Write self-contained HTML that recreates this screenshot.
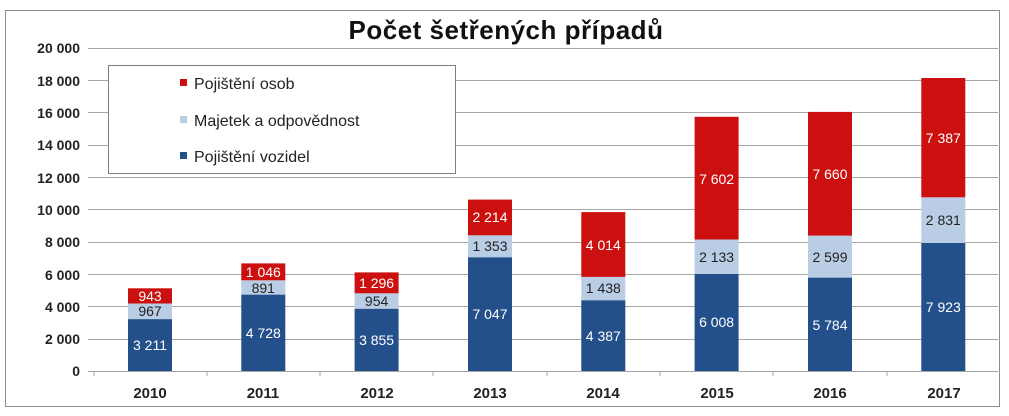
<!DOCTYPE html>
<html><head><meta charset="utf-8"><style>
body{margin:0;background:#fff}
svg{display:block;font-family:"Liberation Sans",sans-serif}
</style></head><body>
<svg width="1009" height="416" viewBox="0 0 1009 416">
<rect x="0" y="0" width="1009" height="416" fill="#fff"/>
<rect x="5.5" y="10.5" width="994" height="396" fill="#fff" stroke="#8c8c8c" stroke-width="1"/>
<text x="506" y="39" text-anchor="middle" font-size="26" font-weight="bold" fill="#111" letter-spacing="0.5">Počet šetřených případů</text>
<g stroke="#a6a6a6" stroke-width="1">
<line x1="88" x2="998" y1="48.5" y2="48.5"/>
<line x1="88" x2="998" y1="80.5" y2="80.5"/>
<line x1="88" x2="998" y1="112.5" y2="112.5"/>
<line x1="88" x2="998" y1="145.5" y2="145.5"/>
<line x1="88" x2="998" y1="177.5" y2="177.5"/>
<line x1="88" x2="998" y1="209.5" y2="209.5"/>
<line x1="88" x2="998" y1="242.5" y2="242.5"/>
<line x1="88" x2="998" y1="274.5" y2="274.5"/>
<line x1="88" x2="998" y1="306.5" y2="306.5"/>
<line x1="88" x2="998" y1="339.5" y2="339.5"/>
<line x1="88" x2="998" y1="371.5" y2="371.5"/>
<line x1="94" x2="94" y1="371" y2="376"/>
<line x1="207" x2="207" y1="371" y2="376"/>
<line x1="320" x2="320" y1="371" y2="376"/>
<line x1="433" x2="433" y1="371" y2="376"/>
<line x1="547" x2="547" y1="371" y2="376"/>
<line x1="660" x2="660" y1="371" y2="376"/>
<line x1="773" x2="773" y1="371" y2="376"/>
<line x1="887" x2="887" y1="371" y2="376"/>
</g>
<g font-size="14" font-weight="bold" fill="#222" text-anchor="end">
<text x="80" y="53">20 000</text>
<text x="80" y="86">18 000</text>
<text x="80" y="118">16 000</text>
<text x="80" y="150">14 000</text>
<text x="80" y="183">12 000</text>
<text x="80" y="215">10 000</text>
<text x="80" y="247">8 000</text>
<text x="80" y="280">6 000</text>
<text x="80" y="312">4 000</text>
<text x="80" y="344">2 000</text>
<text x="80" y="376">0</text>
</g>
<g font-size="15" font-weight="bold" fill="#222" text-anchor="middle">
<text x="150" y="398">2010</text>
<text x="263" y="398">2011</text>
<text x="377" y="398">2012</text>
<text x="490" y="398">2013</text>
<text x="603" y="398">2014</text>
<text x="717" y="398">2015</text>
<text x="830" y="398">2016</text>
<text x="944" y="398">2017</text>
</g>
<g>
<rect x="128" y="319.1" width="44" height="51.9" fill="#234f8a"/>
<rect x="128" y="303.5" width="44" height="15.6" fill="#b9cde5"/>
<rect x="128" y="288.3" width="44" height="15.2" fill="#cc1010"/>
<rect x="241.3" y="294.6" width="44" height="76.4" fill="#234f8a"/>
<rect x="241.3" y="280.3" width="44" height="14.3" fill="#b9cde5"/>
<rect x="241.3" y="263.4" width="44" height="16.9" fill="#cc1010"/>
<rect x="354.6" y="308.7" width="44" height="62.3" fill="#234f8a"/>
<rect x="354.6" y="293.3" width="44" height="15.4" fill="#b9cde5"/>
<rect x="354.6" y="272.4" width="44" height="20.9" fill="#cc1010"/>
<rect x="468" y="257.2" width="44" height="113.8" fill="#234f8a"/>
<rect x="468" y="235.3" width="44" height="21.9" fill="#b9cde5"/>
<rect x="468" y="199.6" width="44" height="35.7" fill="#cc1010"/>
<rect x="581.3" y="300.2" width="44" height="70.8" fill="#234f8a"/>
<rect x="581.3" y="276.9" width="44" height="23.3" fill="#b9cde5"/>
<rect x="581.3" y="212.1" width="44" height="64.8" fill="#cc1010"/>
<rect x="694.6" y="274.0" width="44" height="97" fill="#234f8a"/>
<rect x="694.6" y="239.5" width="44" height="34.5" fill="#b9cde5"/>
<rect x="694.6" y="116.8" width="44" height="122.7" fill="#cc1010"/>
<rect x="808" y="277.6" width="44" height="93.4" fill="#234f8a"/>
<rect x="808" y="235.6" width="44" height="42" fill="#b9cde5"/>
<rect x="808" y="111.9" width="44" height="123.7" fill="#cc1010"/>
<rect x="921.3" y="243.0" width="44" height="128" fill="#234f8a"/>
<rect x="921.3" y="197.3" width="44" height="45.7" fill="#b9cde5"/>
<rect x="921.3" y="78.0" width="44" height="119.3" fill="#cc1010"/>
</g>
<g font-size="14" text-anchor="middle">
<g fill="#fff">
<text x="150" y="350">3 211</text>
<text x="263.3" y="338">4 728</text>
<text x="376.6" y="345">3 855</text>
<text x="490" y="319">7 047</text>
<text x="603.3" y="341">4 387</text>
<text x="716.6" y="327">6 008</text>
<text x="830" y="330">5 784</text>
<text x="943.3" y="312">7 923</text>
<text x="150" y="301">943</text>
<text x="263.3" y="277">1 046</text>
<text x="376.6" y="288">1 296</text>
<text x="490" y="222">2 214</text>
<text x="603.3" y="250">4 014</text>
<text x="716.6" y="184">7 602</text>
<text x="830" y="179">7 660</text>
<text x="943.3" y="143">7 387</text>
</g>
<g fill="#222">
<text x="150" y="316">967</text>
<text x="263.3" y="293">891</text>
<text x="376.6" y="306">954</text>
<text x="490" y="251">1 353</text>
<text x="603.3" y="293">1 438</text>
<text x="716.6" y="262">2 133</text>
<text x="830" y="262">2 599</text>
<text x="943.3" y="225">2 831</text>
</g>
</g>
<rect x="108.5" y="65.5" width="347" height="108" fill="#fff" stroke="#7f7f7f" stroke-width="1"/>
<rect x="180" y="79" width="7" height="7" fill="#cc1010"/>
<rect x="180" y="116" width="7" height="7" fill="#b9cde5"/>
<rect x="180" y="152" width="7" height="7" fill="#234f8a"/>
<g font-size="16" fill="#222">
<text x="194" y="89">Pojištění osob</text>
<text x="194" y="126">Majetek a odpovědnost</text>
<text x="194" y="162">Pojištění vozidel</text>
</g>
</svg>
</body></html>
